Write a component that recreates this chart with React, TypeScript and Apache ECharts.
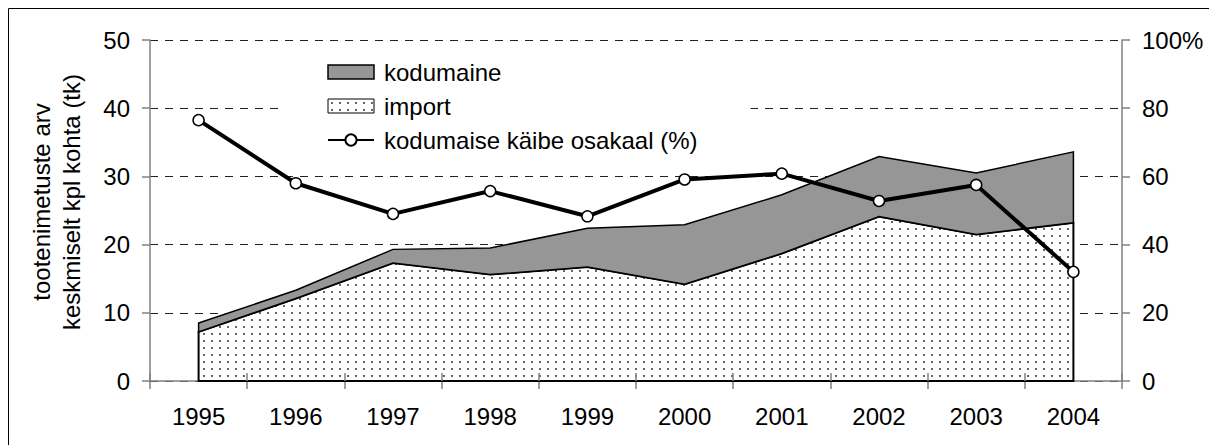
import React, { useEffect, useRef } from "react";
import * as echarts from "echarts";

const years = ["1995", "1996", "1997", "1998", "1999", "2000", "2001", "2002", "2003", "2004"];
const importValues = [7.2, 12.1, 17.3, 15.6, 16.7, 14.2, 18.7, 24.1, 21.5, 23.2];
const domesticValues = [1.3, 1.2, 2.0, 3.9, 5.7, 8.7, 8.6, 8.8, 9.0, 10.4];
const domesticSharePct = [76.5, 58.0, 49.0, 55.7, 48.3, 59.1, 60.8, 52.8, 57.5, 32.0];
const leftTicks = [0, 10, 20, 30, 40, 50];
const rightTickLabels = ["0", "20", "40", "60", "80", "100%"];

const seriesNames = ["kodumaine", "import", "kodumaise käibe osakaal (%)"];
const axisTitle = "tootenimetuste arv\nkeskmiselt kpl kohta (tk)";

const FONT = "'Liberation Sans', Arial, sans-serif";

function makeDotPattern() {
  const c = document.createElement("canvas");
  c.width = 8;
  c.height = 7;
  const ctx = c.getContext("2d")!;
  ctx.fillStyle = "#ffffff";
  ctx.fillRect(0, 0, 8, 7);
  ctx.fillStyle = "#666666";
  ctx.fillRect(3, 3, 2, 2);
  return { image: c, repeat: "repeat", imageWidth: 8, imageHeight: 7 } as any;
}

export default function App() {
  const ref = useRef<HTMLDivElement>(null);

  useEffect(() => {
    if (!ref.current) return;
    const chart = echarts.init(ref.current, null, { renderer: "svg" });
    const dots = makeDotPattern();
    const totals = importValues.map((v, i) => v + domesticValues[i]);
    const last = years.length - 1;

    const option: any = {
      animation: false,
      backgroundColor: "#ffffff",
      textStyle: { fontFamily: FONT },
      grid: { left: 142, right: 95, top: 32, bottom: 64, containLabel: false },
      graphic: [
        {
          type: "rect",
          silent: true,
          shape: { x: 0.5, y: 0.5, width: 1400, height: 700 },
          style: { fill: "none", stroke: "#000", lineWidth: 1 },
          z: 100,
        },
        {
          type: "text",
          x: 48,
          y: 194,
          rotation: Math.PI / 2,
          style: {
            text: axisTitle,
            fontSize: 24,
            fontFamily: FONT,
            fill: "#000",
            align: "center",
            verticalAlign: "middle",
            lineHeight: 30,
          },
        },
      ],
      legend: {
        orient: "vertical",
        left: 275,
        top: 44,
        itemWidth: 46,
        itemHeight: 14,
        itemGap: 10,
        padding: [8, 53, 8, 44],
        backgroundColor: "#ffffff",
        selectedMode: false,
        textStyle: { fontSize: 24, color: "#000", fontFamily: FONT, padding: [0, 0, 0, 5] },
        data: [
          {
            name: seriesNames[0],
            icon: "rect",
            itemStyle: { color: "#969696", borderColor: "#000", borderWidth: 1.5 },
          },
          {
            name: seriesNames[1],
            icon: "rect",
            itemStyle: { color: dots, borderColor: "#000", borderWidth: 1 },
          },
          { name: seriesNames[2] },
        ],
      },
      xAxis: [
        {
          type: "category",
          data: years,
          boundaryGap: true,
          axisLine: { lineStyle: { color: "#808080", width: 1.5 } },
          axisTick: { show: true, length: 8, lineStyle: { color: "#808080", width: 1.5 } },
          axisLabel: { fontSize: 24, color: "#000", margin: 23, fontFamily: FONT, interval: 0 },
          splitLine: { show: false },
        },
        {
          type: "category",
          data: years,
          position: "bottom",
          boundaryGap: true,
          z: 10,
          axisLine: { show: false },
          axisTick: { show: true, inside: true, length: 8, lineStyle: { color: "#808080", width: 1.5 } },
          axisLabel: { show: false },
          splitLine: { show: false },
        },
      ],
      yAxis: [
        {
          type: "value",
          min: leftTicks[0],
          max: leftTicks[leftTicks.length - 1],
          interval: 10,
          axisLine: { show: true, lineStyle: { color: "#808080", width: 1.5 } },
          axisTick: { show: true, length: 8, lineStyle: { color: "#808080", width: 1.5 } },
          axisLabel: { fontSize: 24, color: "#000", margin: 20, fontFamily: FONT },
          splitLine: { show: true, lineStyle: { color: "#222", width: 1, type: [8, 7] } },
        },
        {
          type: "value",
          min: 0,
          max: 100,
          interval: 20,
          position: "right",
          axisLine: { show: true, lineStyle: { color: "#808080", width: 1.5 } },
          axisTick: { show: true, length: 8, lineStyle: { color: "#808080", width: 1.5 } },
          axisLabel: {
            fontSize: 24,
            color: "#000",
            margin: 20,
            fontFamily: FONT,
            formatter: (v: number) => rightTickLabels[Math.round(v / 20)],
          },
          splitLine: { show: false },
        },
      ],
      series: [
        {
          name: seriesNames[1],
          type: "custom",
          z: 2,
          data: [[0, 0]],
          itemStyle: { color: "#ffffff" },
          renderItem: (params: any, api: any) => {
            if (params.dataIndex !== 0) return null;
            const pts = importValues.map((v, i) => api.coord([i, v]));
            return {
              type: "polygon",
              shape: { points: [api.coord([0, 0]), ...pts, api.coord([last, 0])] },
              style: { fill: dots, stroke: "#000", lineWidth: 2 },
            };
          },
        },
        {
          name: seriesNames[0],
          type: "custom",
          z: 3,
          data: [[0, 0]],
          itemStyle: { color: "#969696" },
          renderItem: (params: any, api: any) => {
            if (params.dataIndex !== 0) return null;
            const top = totals.map((v, i) => api.coord([i, v]));
            const bottom = importValues.map((v, i) => api.coord([i, v])).reverse();
            return {
              type: "polygon",
              shape: { points: [...top, ...bottom] },
              style: { fill: "#969696", stroke: "#000", lineWidth: 1.5 },
            };
          },
        },
        {
          name: seriesNames[2],
          type: "line",
          yAxisIndex: 1,
          z: 5,
          data: domesticSharePct,
          symbol: "circle",
          symbolSize: 11,
          lineStyle: { color: "#000", width: 4 },
          itemStyle: { color: "#ffffff", borderColor: "#000", borderWidth: 1.5 },
        },
      ],
    };

    chart.setOption(option);
    return () => chart.dispose();
  }, []);

  return <div ref={ref} style={{ width: 1209, height: 437 }} />;
}
